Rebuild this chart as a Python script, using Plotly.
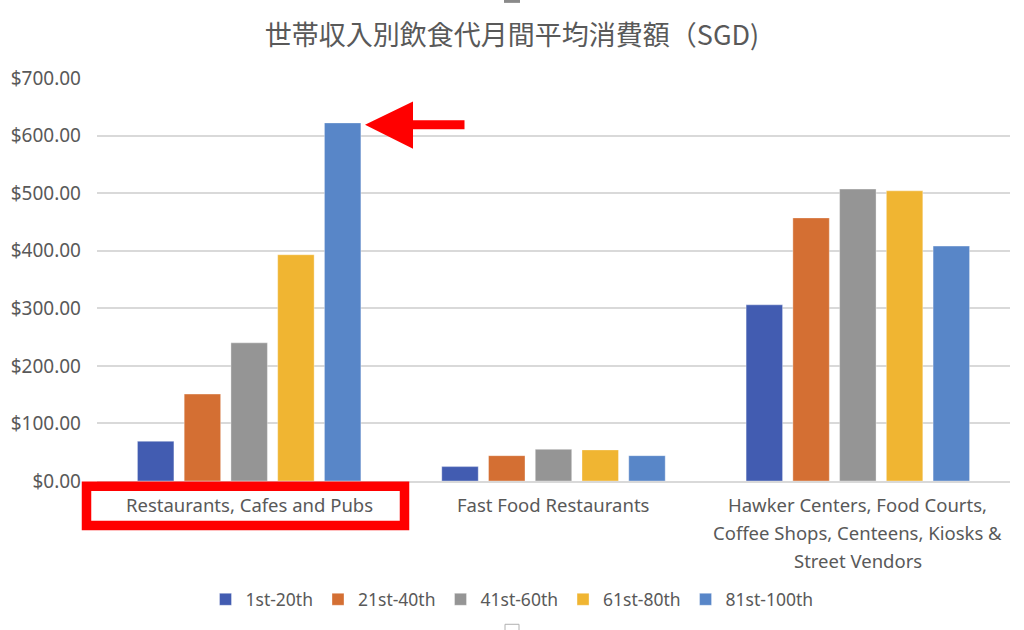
import plotly.graph_objects as go

categories = [
    "Restaurants, Cafes and Pubs",
    "Fast Food Restaurants",
    "Hawker Centers, Food Courts,<br>Coffee Shops, Centeens, Kiosks &<br>Street Vendors",
]
series_names = ["1st-20th", "21st-40th", "41st-60th", "61st-80th", "81st-100th"]
values_1st_20th = [69, 25, 306]
values_21st_40th = [151, 44, 457]
values_41st_60th = [240, 55, 507]
values_61st_80th = [393, 54, 504]
values_81st_100th = [622, 44, 408]
series_values = [values_1st_20th, values_21st_40th, values_41st_60th,
                 values_61st_80th, values_81st_100th]
colors = ["#425CB1", "#D46F33", "#959595", "#F0B532", "#5886C8"]
y_ticks = [0, 100, 200, 300, 400, 500, 600, 700]
y_tick_labels = ["$%.2f" % v for v in y_ticks]
title_text = "世帯収入別飲食代月間平均消費額（SGD)"

W, H = 1024, 630
ML, MR, MT, MB = 97, 14, 78, 147
PW, PH = W - ML - MR, H - MT - MB


def px(x):
    return (x - ML) / PW


def py(y):
    return (H - MB - y) / PH


CJK = "Noto Sans CJK JP, Noto Sans, sans-serif"
LAT = "Noto Sans, Noto Sans CJK JP, sans-serif"
TXT = "#595959"

fig = go.Figure()
for name, vals, col in zip(series_names, series_values, colors):
    fig.add_trace(go.Bar(
        x=categories, y=vals, name=name,
        marker=dict(color=col, line=dict(color="rgba(255,255,255,0.35)", width=1)),
    ))

# category labels as per-line annotations (line spacing like the reference)
annotations = []
for cat in categories:
    for i, line in enumerate(cat.split("<br>")):
        annotations.append(dict(
            x=cat, xref="x", y=py(507 + 28 * i), yref="paper",
            text=line, showarrow=False, xanchor="center", yanchor="middle",
            font=dict(family=LAT, size=18.5, color=TXT)))

shapes = []
# red arrow (triangle head + shaft)
shapes.append(dict(
    type="path", xref="paper", yref="paper",
    path=f"M {px(365)} {py(125)} L {px(413)} {py(101.5)} L {px(413)} {py(120.5)} "
         f"L {px(464.5)} {py(120.5)} L {px(464.5)} {py(129.5)} L {px(413)} {py(129.5)} "
         f"L {px(413)} {py(149)} Z",
    fillcolor="#FF0000", line=dict(width=0), layer="above"))
# red box around first category label
shapes.append(dict(
    type="rect", xref="paper", yref="paper",
    x0=px(86.5), x1=px(404.5), y0=py(488.3), y1=py(527.8),
    line=dict(color="#FF0000", width=9.5), fillcolor="rgba(0,0,0,0)", layer="above"))
# small handle artifacts
shapes.append(dict(
    type="rect", xref="paper", yref="paper",
    x0=px(504), x1=px(520), y0=py(-2), y1=py(2.5),
    line=dict(width=0), fillcolor="#8a8a8a", layer="above"))
shapes.append(dict(
    type="rect", xref="paper", yref="paper",
    x0=px(505), x1=px(519), y0=py(627), y1=py(634),
    line=dict(color="#b0b0b0", width=1), fillcolor="white", layer="above"))

fig.update_layout(
    width=W, height=H,
    margin=dict(l=ML, r=MR, t=MT, b=MB),
    paper_bgcolor="white", plot_bgcolor="white",
    barmode="group", bargap=0.232, bargroupgap=0.22,
    font=dict(family=LAT, color=TXT, size=17.5),
    title=dict(text=title_text, x=0.5, xref="container", xanchor="center",
               y=1 - 36 / H, yanchor="middle", yref="container",
               font=dict(size=27, color=TXT, family=CJK)),
    legend=dict(orientation="h", x=px(512), xanchor="center", y=py(602), yanchor="middle",
                font=dict(size=17.5, color=TXT, family=LAT), itemwidth=30,
                traceorder="normal"),
    shapes=shapes,
    annotations=annotations,
    showlegend=True,
)
fig.update_yaxes(range=[0, 700], tickvals=y_ticks, ticktext=y_tick_labels,
                 showgrid=True, gridcolor="#D9D9D9", gridwidth=1.5,
                 zeroline=False, showline=False, ticks="",
                 ticklabelstandoff=15,
                 tickfont=dict(size=19, color=TXT, family=LAT))
fig.update_xaxes(showline=True, linecolor="#D9D9D9", linewidth=1.5, ticks="",
                 showticklabels=False)

fig.write_html("out.html")
